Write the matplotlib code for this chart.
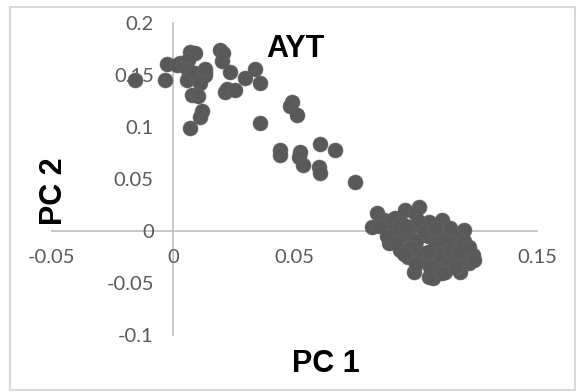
import matplotlib.pyplot as plt
from matplotlib.patches import Rectangle

# PC scores
pc1_top = [-0.0157, -0.0033, -0.0026, 0.0029, 0.0015, 0.0041, 0.0070, 0.0091, 0.0062,
           0.0062, 0.0056, 0.0091, 0.0132, 0.0132, 0.0132, 0.0111, 0.0077, 0.0103,
           0.0118, 0.0111, 0.0070, 0.0194, 0.0206, 0.0201, 0.0235, 0.0214, 0.0221,
           0.0256, 0.0297, 0.0338, 0.0359, 0.0359, 0.0489, 0.0482, 0.0510]
pc2_top = [0.145, 0.145, 0.161, 0.162, 0.160, 0.160, 0.172, 0.171, 0.164,
           0.155, 0.145, 0.152, 0.153, 0.150, 0.156, 0.142, 0.131, 0.130,
           0.115, 0.110, 0.099, 0.174, 0.171, 0.163, 0.153, 0.134, 0.137,
           0.136, 0.147, 0.156, 0.142, 0.104, 0.124, 0.120, 0.112]

pc1_mid = [0.0441, 0.0441, 0.0524, 0.0517, 0.0537, 0.0606, 0.0668, 0.0599, 0.0606, 0.0751]
pc2_mid = [0.078, 0.073, 0.076, 0.071, 0.0635, 0.084, 0.078, 0.062, 0.0555, 0.047]

pc1_low = [0.0840, 0.0819, 0.0867, 0.0902, 0.0915, 0.0957, 0.1012, 0.0998, 0.0888, 0.0929,
           0.0936, 0.0970, 0.0991, 0.1053, 0.0977, 0.1026, 0.1053, 0.1012, 0.1067,
           0.1108, 0.1197, 0.1238, 0.1218, 0.1184, 0.1122, 0.1073, 0.1170, 0.1142,
           0.1087, 0.1156, 0.1197, 0.1115, 0.1170, 0.1211,
           0.095, 0.100, 0.105, 0.108, 0.103, 0.110, 0.098, 0.090, 0.085, 0.094,
           0.112, 0.116, 0.120, 0.106, 0.113, 0.101,
           0.088, 0.092, 0.096, 0.104, 0.108, 0.114, 0.118, 0.122, 0.109, 0.100,
           0.105, 0.111, 0.116, 0.124, 0.095]
pc2_low = [0.017, 0.004, 0.0106, 0.0106, 0.0122, 0.020, 0.0234, 0.017, -0.0118, -0.007,
           -0.0183, -0.0247, -0.039, -0.044, 0.0026, 0.0026, 0.009, -0.020, -0.0295,
           0.0106, 0.001, -0.023, -0.031, -0.039, -0.039, -0.0455, -0.007, 0.0026,
           -0.004, -0.0166, -0.0166, -0.023, -0.0295, -0.026,
           -0.003, -0.010, -0.005, -0.015, -0.025, -0.030, -0.015, 0.000, 0.005, 0.008,
           -0.010, -0.025, -0.010, -0.035, -0.035, 0.010,
           -0.005, -0.012, 0.005, 0.000, 0.003, -0.018, -0.020, -0.015, -0.022, -0.032,
           -0.020, -0.040, -0.035, -0.028, -0.022]

pc1 = pc1_top + pc1_mid + pc1_low
pc2 = pc2_top + pc2_mid + pc2_low

x_ticks = [-0.05, 0, 0.05, 0.1, 0.15]
x_labels = ['-0.05', '0', '0.05', '0.1', '0.15']
y_ticks = [-0.1, -0.05, 0, 0.05, 0.1, 0.15, 0.2]
y_labels = ['-0.1', '-0.05', '0', '0.05', '0.1', '0.15', '0.2']

fig = plt.figure(figsize=(5.81, 3.92), dpi=100)
ax = fig.add_axes([0.0895, 0.1454, 0.8348, 0.7959])

ax.plot(pc1, pc2, 'o', color='#595959', markersize=10.8,
        markeredgecolor='#666666', markeredgewidth=0.4, zorder=3, clip_on=False)

ax.set_xlim(-0.05, 0.15)
ax.set_ylim(-0.1, 0.2)

# Achsen durch den Nullpunkt (Excel-Stil)
for side in ['top', 'right']:
    ax.spines[side].set_visible(False)
ax.spines['left'].set_position(('data', 0))
ax.spines['bottom'].set_position(('data', 0))
for side in ['left', 'bottom']:
    ax.spines[side].set_color('#c4c4c4')
    ax.spines[side].set_linewidth(1.3)
    ax.spines[side].set_zorder(1)

ax.set_xticks(x_ticks)
ax.set_xticklabels(x_labels)
ax.set_yticks(y_ticks)
ax.set_yticklabels(y_labels)
ax.tick_params(axis='x', length=0, pad=13, labelsize=14.5, labelcolor='#595959')
ax.tick_params(axis='y', length=0, pad=14, labelsize=14.5, labelcolor='#595959')
for lab in ax.get_xticklabels() + ax.get_yticklabels():
    lab.set_family('Lato')
    lab.set_zorder(1)

title_font = dict(family='Liberation Sans', weight='bold', size=22, color='black')
fig.text(0.5086, 0.8546, 'AYT', ha='center', va='baseline', **title_font)
fig.text(0.5602, 0.051, 'PC 1', ha='center', va='baseline', **title_font)
fig.text(0.1067, 0.5128, 'PC 2', ha='center', va='baseline', rotation=90,
         rotation_mode='anchor', **title_font)

# Rahmen um das Diagramm
fig.patches.append(Rectangle((0.0172, 0.0051), 0.9725, 0.977, transform=fig.transFigure,
                             fill=False, edgecolor='#d9d9d9', linewidth=1.5))

fig.savefig('out.png', dpi=100)
